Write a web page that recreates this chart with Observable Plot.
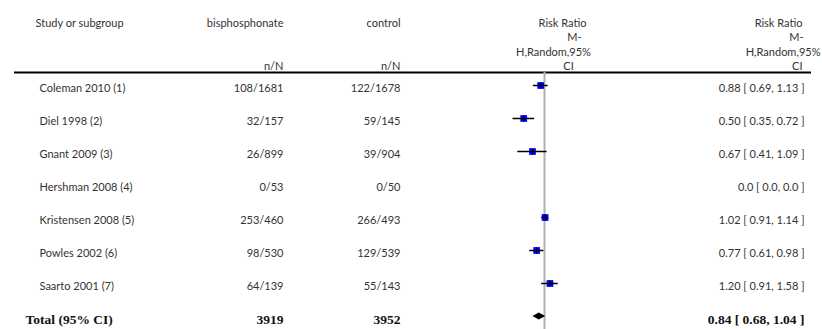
<!DOCTYPE html>
<html>
<head>
<meta charset="utf-8">
<script src="https://cdn.jsdelivr.net/npm/d3@7"></script>
<script src="https://cdn.jsdelivr.net/npm/@observablehq/plot@0.6"></script>
<style>
  html, body { margin: 0; padding: 0; background: #fff; }
  #chart svg { display: block; }
</style>
</head>
<body>
<div id="chart"></div>
<script>
// ---- data ----
const studies = ["Coleman 2010 (1)", "Diel 1998 (2)", "Gnant 2009 (3)", "Hershman 2008 (4)", "Kristensen 2008 (5)", "Powles 2002 (6)", "Saarto 2001 (7)"];
const bisphosphonate = ["108/1681", "32/157", "26/899", "0/53", "253/460", "98/530", "64/139"];
const control = ["122/1678", "59/145", "39/904", "0/50", "266/493", "129/539", "55/143"];
const riskRatio = [0.88, 0.50, 0.67, null, 1.02, 0.77, 1.20];
const ciLow = [0.69, 0.35, 0.41, null, 0.91, 0.61, 0.91];
const ciHigh = [1.13, 0.72, 1.09, null, 1.14, 0.98, 1.58];
const ciLabels = ["0.88 [ 0.69, 1.13 ]", "0.50 [ 0.35, 0.72 ]", "0.67 [ 0.41, 1.09 ]", "0.0 [ 0.0, 0.0 ]", "1.02 [ 0.91, 1.14 ]", "0.77 [ 0.61, 0.98 ]", "1.20 [ 0.91, 1.58 ]"];
const totalLabel = "Total (95% CI)";
const totalBis = "3919";
const totalCtrl = "3952";
const totalRR = 0.84, totalLow = 0.68, totalHigh = 1.04;
const totalCI = "0.84 [ 0.68, 1.04 ]";
const headerCols = ["Study or subgroup", "bisphosphonate", "control"];
const nNLabel = "n/N";
const rrHeader = ["Risk Ratio", "M-", "H,Random,95%", "CI"];

// ---- build table ----
const rows = studies.map((s, i) => ({i, study: s, bis: bisphosphonate[i], ctrl: control[i], rr: riskRatio[i], lo: ciLow[i], hi: ciHigh[i], ci: ciLabels[i]}));
const est = rows.filter(d => d.rr != null);
const totalRow = [{i: studies.length, study: totalLabel, bis: totalBis, ctrl: totalCtrl, rr: totalRR, lo: totalLow, hi: totalHigh, ci: totalCI}];
const half = 3.6 / 33; // diamond half-height in row units
const diamond = [
  {x: totalLow, y1: studies.length, y2: studies.length},
  {x: totalRR, y1: studies.length - half, y2: studies.length + half},
  {x: totalHigh, y1: studies.length, y2: studies.length}
];

const W = 822, H = 329, ML = 406, MR = 140, MT = 85, MB = 13;
const FONT = "Lato, 'Open Sans', sans-serif";
const SERIF = "'Liberation Serif', 'DejaVu Serif', serif";
const TXT = "#333";

function hdr(text, x, y, anchor) {
  return Plot.text([text], {frameAnchor: "top-left", dx: x - ML, dy: y - MT, textAnchor: anchor, fill: TXT, fontSize: 11});
}
function col(data, key, x, anchor, opts = {}) {
  return Plot.text(data, {y: "i", text: key, frameAnchor: "left", dx: x - ML, dy: 3, textAnchor: anchor, fill: TXT, fontSize: 11, ...opts});
}
const bold = {fill: "#111", fontSize: 13.5, fontWeight: "bold", fontFamily: SERIF};

const chart = Plot.plot({
  width: W, height: H,
  marginLeft: ML, marginRight: MR, marginTop: MT, marginBottom: MB,
  style: {fontFamily: FONT, background: "#fff"},
  x: {type: "log", domain: [0.01, 100], axis: null},
  y: {domain: [0, studies.length], reverse: true, axis: null},
  marks: [
    // header
    hdr(headerCols[0], 35, 19, "start"),
    hdr(headerCols[1], 283, 19, "end"),
    hdr(headerCols[2], 400, 19, "end"),
    hdr(nNLabel, 283, 62, "end"),
    hdr(nNLabel, 400, 62, "end"),
    hdr(rrHeader[0], 562, 19, "middle"),
    hdr(rrHeader[1], 574, 33, "middle"),
    hdr(rrHeader[2], 553, 48, "middle"),
    hdr(rrHeader[3], 568, 62, "middle"),
    hdr(rrHeader[0], 802, 19, "end"),
    hdr(rrHeader[1], 803, 33, "end"),
    hdr(rrHeader[2], 820, 48, "end"),
    hdr(rrHeader[3], 802, 62, "end"),
    // header rule
    Plot.ruleY([0], {dy: -13, insetLeft: 14 - ML, insetRight: (W - MR) - 811, stroke: "#000", strokeWidth: 2}),
    // line of no effect
    Plot.ruleX([1], {insetTop: -13, insetBottom: -MB, stroke: "#b0b0b0", strokeWidth: 2}),
    // study columns
    col(rows, "study", 39, "start"),
    col(rows, "bis", 283, "end"),
    col(rows, "ctrl", 400, "end"),
    col(rows, "ci", 804, "end"),
    // total row
    col(totalRow, "study", 25, "start", bold),
    col(totalRow, "bis", 283, "end", bold),
    col(totalRow, "ctrl", 400, "end", bold),
    col(totalRow, "ci", 804, "end", bold),
    // estimates
    Plot.dot(est, {x: "rr", y: "i", symbol: "square", r: 3.8, fill: "#0000ff"}),
    Plot.ruleY(est, {y: "i", x1: "lo", x2: "hi", stroke: "#000", strokeWidth: 1.5}),
    Plot.dot(est, {x: "rr", y: "i", symbol: "plus", r: 2.2, stroke: "#000", strokeWidth: 1}),
    Plot.areaY(diamond, {x: "x", y1: "y1", y2: "y2", fill: "#000"})
  ]
});
document.getElementById("chart").appendChild(chart);
</script>
</body>
</html>
